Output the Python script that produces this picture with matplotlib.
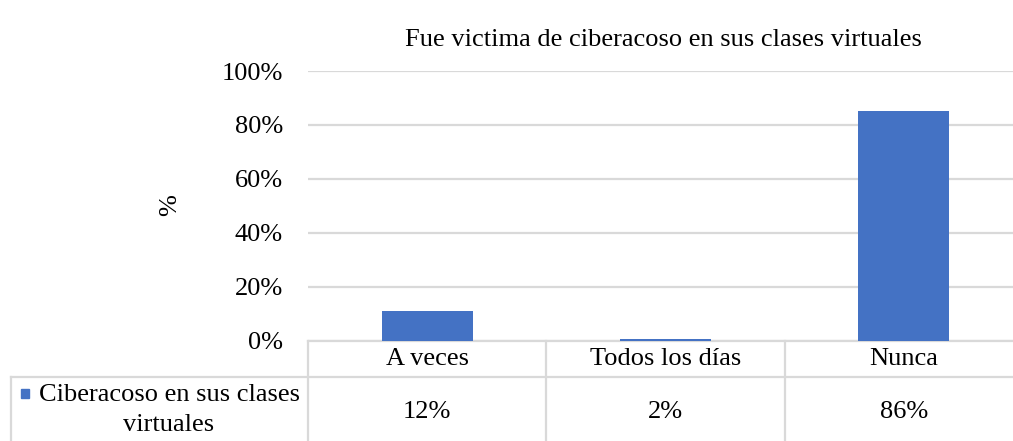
import matplotlib
matplotlib.use("Agg")
import matplotlib.pyplot as plt
import matplotlib.transforms as mtransforms
from matplotlib.patches import Rectangle

# ---- data ----
categories = ["A veces", "Todos los días", "Nunca"]
values = [0.111, 0.008, 0.852]          # bar heights
table_labels = ["12%", "2%", "86%"]      # values printed in the data table
series_name = "Ciberacoso en sus clases\nvirtuales"
title = "Fue victima de ciberacoso en sus clases virtuales"
yticks = [0, 0.2, 0.4, 0.6, 0.8, 1.0]

BLUE = "#4472C4"
GRID = "#d9d9d9"
FS = 19

plt.rcParams["font.family"] = ["Liberation Serif", "DejaVu Serif"]

W, H = 1013, 441
fig = plt.figure(figsize=(W / 100, H / 100), dpi=100)
# plot area in pixels: x 308..1023, y 71..340.7
ax = fig.add_axes([308 / W, 1 - 340.7 / H, 715 / W, (340.7 - 71) / H])

x = list(range(len(categories)))
ax.bar(x, values, width=0.382, color=BLUE, zorder=3)
ax.set_xlim(-0.5, len(categories) - 0.5)
ax.set_ylim(0, 1)
ax.set_yticks(yticks)
ax.set_yticklabels([f"{int(round(t * 100))}%" for t in yticks], fontsize=FS)
ax.tick_params(axis="y", length=0, pad=18)
ax.tick_params(axis="x", bottom=False, labelbottom=False)
ax.yaxis.grid(True, color=GRID, linewidth=1.6, zorder=0)
for s in ax.spines.values():
    s.set_visible(False)

fig.text(663 / W, 1 - 40 / H, title, fontsize=FS, ha="center", va="center")
fig.text(170 / W, 1 - 205 / H, "%", rotation=90, fontsize=FS,
         ha="center", va="center")

# ---- data table under the axis ----
tr = mtransforms.blended_transform_factory(ax.transData, ax.transAxes)
ah = 340.7 - 71
row1 = -(377 - 340.7) / ah
row_bot = -(460 - 340.7) / ah
left = -0.5 - (308 - 11) / 238
right = len(categories) - 0.5
lw = 1.6
line_kw = dict(color=GRID, linewidth=lw, transform=tr, clip_on=False, zorder=1)

ax.plot([-0.5, right], [0, 0], **line_kw)
ax.plot([left, right], [row1, row1], **line_kw)
ax.plot([left, left], [row1, row_bot], **line_kw)
for i in range(len(categories) + 1):
    ax.plot([i - 0.5, i - 0.5], [0, row_bot], **line_kw)

y_head = -(359 - 340.7) / ah
y_val = -(412 - 340.7) / ah
for i, (c, lab) in enumerate(zip(categories, table_labels)):
    ax.text(i, y_head, c, transform=tr, ha="center", va="center", fontsize=FS)
    ax.text(i, y_val, lab, transform=tr, ha="center", va="center", fontsize=FS)

fig.text(169 / W, 1 - 410 / H, series_name, ha="center", va="center",
         fontsize=FS, linespacing=1.5, multialignment="center")
fig.patches.append(Rectangle((21 / W, 1 - 398 / H), 8 / W, 9 / H,
                             transform=fig.transFigure, color=BLUE))

fig.savefig("out.png", dpi=100)
